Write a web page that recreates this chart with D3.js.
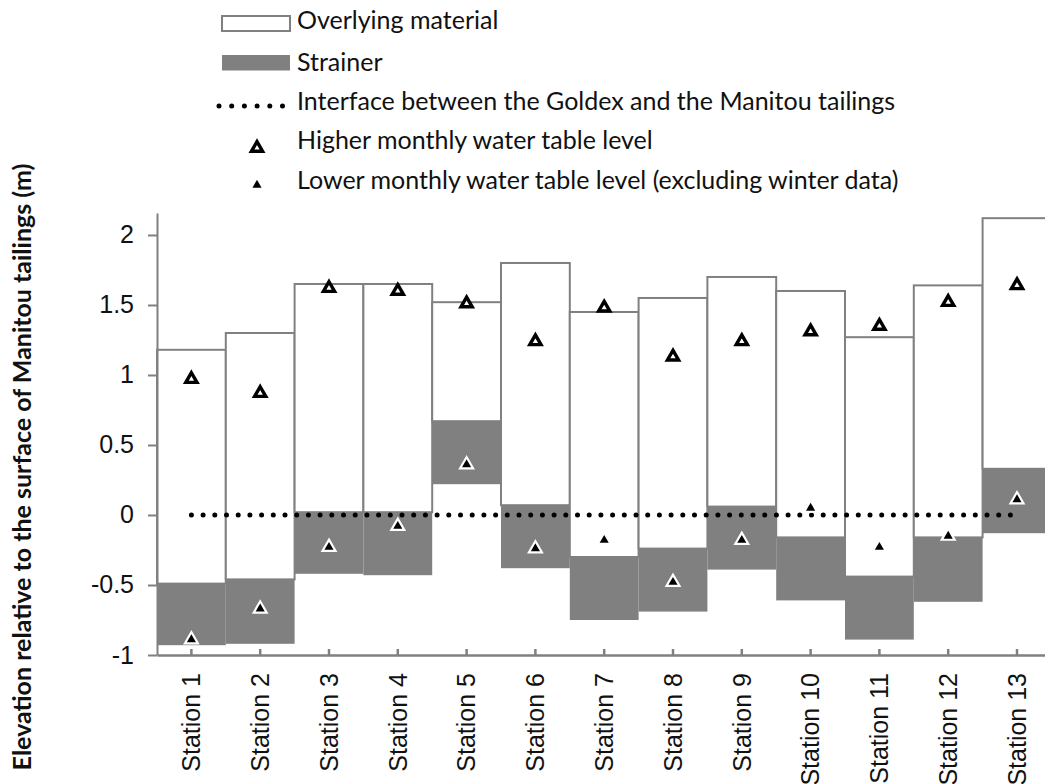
<!DOCTYPE html>
<html lang="en">
<head>
	<meta charset="UTF-8">
	<title>Water table levels per station</title>
	<script src="https://d3js.org/d3.v7.min.js"></script>
	<style>
		body { margin: 0; background: #fff; }
		svg { display: block; font-family: Lato, "Open Sans", sans-serif; }
	</style>
</head>
<body>
<script>
	// ----data (m)----
	var stations = ['Station 1', 'Station 2', 'Station 3', 'Station 4', 'Station 5', 'Station 6', 'Station 7',
		'Station 8', 'Station 9', 'Station 10', 'Station 11', 'Station 12', 'Station 13'];
	var surfaceTop = [1.18, 1.30, 1.65, 1.65, 1.52, 1.80, 1.45, 1.55, 1.70, 1.60, 1.27, 1.64, 2.12];
	var strainerTop = [-0.49, -0.46, 0.02, 0.02, 0.67, 0.07, -0.30, -0.24, 0.06, -0.16, -0.44, -0.16, 0.33];
	var strainerBottom = [-0.93, -0.92, -0.42, -0.43, 0.22, -0.38, -0.75, -0.69, -0.39, -0.61, -0.89, -0.62, -0.13];
	var interfaceLevel = [0, 0, 0, 0, 0, 0, 0, 0, 0, 0, 0, 0, 0];
	var higherLevel = [0.97, 0.87, 1.62, 1.60, 1.51, 1.24, 1.48, 1.13, 1.24, 1.31, 1.35, 1.52, 1.64];
	var lowerLevel = [-0.89, -0.67, -0.23, -0.08, 0.36, -0.24, -0.18, -0.48, -0.18, 0.05, -0.23, -0.15, 0.11];
	var yTicks = [-1, -0.5, 0, 0.5, 1, 1.5, 2];
	var legendLabels = ['Overlying material', 'Strainer',
		'Interface between the Goldex and the Manitou tailings',
		'Higher monthly water table level',
		'Lower monthly water table level (excluding winter data)'];

	var width = 1045, height = 784;
	var grey = '#808080', ink = '#111';
	var fontSize = 25;

	var svg = d3.select('body').append('svg')
		.attr('width', width)
		.attr('height', height);

	var x = d3.scaleBand()
		.domain(stations)
		.range([157, 157 + 13 * 68.8])
		.padding(0);
	var y = d3.scaleLinear()
		.domain([-1, 2.157])
		.range([655, 213]);

	var rows = stations.map(function (s, i) {
		return {
			name: s, top: surfaceTop[i], sTop: strainerTop[i], sBot: strainerBottom[i],
			inter: interfaceLevel[i], hi: higherLevel[i], lo: lowerLevel[i]
		};
	});

	//----bars----
	svg.append('g').selectAll('rect')
		.data(rows).enter().append('rect')
		.attr('x', function (d) { return x(d.name); })
		.attr('width', x.bandwidth())
		.attr('y', function (d) { return y(d.top); })
		.attr('height', function (d) { return y(d.sTop) - y(d.top); })
		.attr('fill', '#fff')
		.attr('stroke', grey)
		.attr('stroke-width', 2);

	svg.append('g').selectAll('rect')
		.data(rows).enter().append('rect')
		.attr('x', function (d) { return x(d.name); })
		.attr('width', x.bandwidth())
		.attr('y', function (d) { return y(d.sTop); })
		.attr('height', function (d) { return y(d.sBot) - y(d.sTop); })
		.attr('fill', grey);

	//----axes----
	var yAxis = svg.append('g')
		.attr('transform', 'translate(157,0)')
		.call(d3.axisLeft(y).tickValues(yTicks).tickFormat(function (d) { return String(d); })
			.tickSizeInner(9).tickSizeOuter(0).tickPadding(14));
	yAxis.selectAll('path, line').attr('stroke', grey).attr('stroke-width', 2);
	yAxis.selectAll('text').attr('fill', ink).style('font-size', fontSize + 'px');

	var xAxis = svg.append('g')
		.attr('transform', 'translate(0,655)')
		.call(d3.axisBottom(x).tickSizeInner(-6).tickSizeOuter(0));
	xAxis.selectAll('path, line').attr('stroke', grey).attr('stroke-width', 2.5);
	xAxis.selectAll('text')
		.attr('fill', ink)
		.style('font-size', fontSize + 'px')
		.attr('transform', 'rotate(-90)')
		.attr('text-anchor', 'end')
		.attr('x', -18)
		.attr('y', 0)
		.attr('dy', '0.35em');

	//----interface line----
	svg.append('path')
		.datum(rows)
		.attr('fill', 'none')
		.attr('stroke', '#000')
		.attr('stroke-width', 5)
		.attr('stroke-linecap', 'round')
		.attr('stroke-dasharray', '0,11.7')
		.attr('d', d3.line()
			.x(function (d) { return x(d.name) + x.bandwidth() / 2; })
			.y(function (d) { return y(d.inter); }));

	//----markers----
	var bigTri = d3.symbol().type(d3.symbolTriangle).size(54);
	var smallTri = d3.symbol().type(d3.symbolTriangle).size(36);

	svg.append('g').selectAll('path')
		.data(rows).enter().append('path')
		.attr('d', bigTri)
		.attr('transform', function (d) {
			return 'translate(' + (x(d.name) + x.bandwidth() / 2) + ',' + y(d.hi) + ')';
		})
		.attr('fill', '#fff')
		.attr('stroke', '#000')
		.attr('stroke-width', 3.4);

	svg.append('g').selectAll('path')
		.data(rows).enter().append('path')
		.attr('d', smallTri)
		.attr('transform', function (d) {
			return 'translate(' + (x(d.name) + x.bandwidth() / 2) + ',' + y(d.lo) + ')';
		})
		.attr('fill', '#000')
		.attr('stroke', '#fff')
		.attr('stroke-width', 4.4)
		.style('paint-order', 'stroke');

	//----y title----
	svg.append('text')
		.attr('transform', 'translate(31,467) rotate(-90)')
		.attr('text-anchor', 'middle')
		.attr('fill', ink)
		.style('font-size', fontSize + 'px')
		.style('font-weight', 'bold')
		.text('Elevation relative to the surface of Manitou tailings (m)');

	//----legend----
	var lg = svg.append('g');
	lg.append('rect').attr('x', 222).attr('y', 16).attr('width', 68).attr('height', 15)
		.attr('fill', '#fff').attr('stroke', grey).attr('stroke-width', 2);
	lg.append('rect').attr('x', 222).attr('y', 55).attr('width', 68).attr('height', 15.5)
		.attr('fill', grey);
	lg.append('line').attr('x1', 219).attr('x2', 283).attr('y1', 106).attr('y2', 106)
		.attr('stroke', '#000').attr('stroke-width', 5).attr('stroke-linecap', 'round')
		.attr('stroke-dasharray', '0,12.7');
	lg.append('path').attr('d', bigTri).attr('transform', 'translate(257,148)')
		.attr('fill', '#fff').attr('stroke', '#000').attr('stroke-width', 3.4);
	lg.append('path').attr('d', smallTri).attr('transform', 'translate(257,185)')
		.attr('fill', '#000');

	var baselines = [29, 71, 110, 149, 189];
	lg.selectAll('text')
		.data(legendLabels).enter().append('text')
		.attr('x', 297)
		.attr('y', function (d, i) { return baselines[i]; })
		.attr('fill', ink)
		.style('font-size', fontSize + 'px')
		.text(function (d) { return d; });
</script>
</body>
</html>
